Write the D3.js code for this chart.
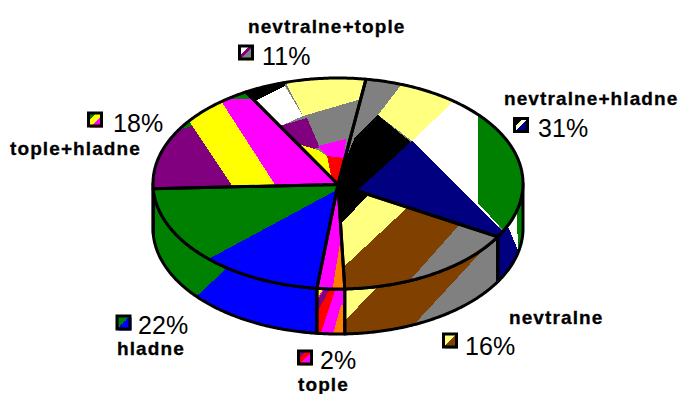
<!DOCTYPE html>
<html>
<head>
<meta charset="utf-8">
<script src="https://cdn.jsdelivr.net/npm/d3@7/dist/d3.min.js"></script>
<style>
html,body{margin:0;padding:0;background:#fff}
svg{display:block}
text{font-family:"Liberation Sans",Arial,sans-serif;fill:#000}
.name{font-size:19px;font-weight:bold;letter-spacing:1.1px;stroke:#000;stroke-width:.3px}
.pct{font-size:25px;letter-spacing:.1px}
</style>
</head>
<body>
<svg id="chart" width="685" height="394"></svg>
<script>
// ---- data, clockwise from the top of the pie
const categories = ["nevtralne+hladne","nevtralne","tople","hladne","tople+hladne","nevtralne+tople"];
const values = [31.0,16.0,2.4,22.4,17.5,10.7];
const firstAngleDeg = 8.7;

// ---- palette of the dithered fills
const BK="#000",WH="#fff",GY="#808080",LY="#ffff80",YE="#ffff00",NV="#000080",BL="#0000ff",
      GR="#008000",BR="#804000",PU="#800080",MG="#ff00ff",RD="#ff0000",OR="#ff8000";

// ---- fill bands (texture only), in reference-frame units, painted in order
const topBase = [GY,BK,MG,GR,PU,GY];
const wallBase = [NV,GY,MG,GR,GR,GR];
const topBands = [
 [[LY,[405,80,378,115,412,141,455,103,430,70]],
  [WH,[455,100,412,141,500,232,478,80]],
  [GR,[478,80,530,80,530,245,503,230,478,203]],
  [BK,[378,115,412,143,357,192,336,192,336,183,355,137]],
  [NV,[412,141,350,197,500,250,510,238]]],
 [[LY,[375,188,335,230,335,275,410,205]],
  [BR,[410,205,335,275,335,300,400,300,412,278,460,224]],
  [GY,[460,224,412,278,395,298,525,298,525,215]]],
 [[OR,[340.5,240,332,292,352,292,352,240]]],
 [[BL,[347,184.5,205,261,205,300,347,300]]],
 [[GR,[150,138.5,270,102.5,270,70,150,70]],
  [YE,[180,107.5,240,197.5,283,197,220,99.4]],
  [MG,[220,99.4,283,197,345,197,345,99.4]]],
 [[LY,[287,60,287,85,303,116,375,95,375,60]],
  [WH,[240,105,257,100,285,86,303,116,283,125,262,125]],
  [BK,[235,90,290,70,285,86,257,100,245,106]],
  [PU,[283,125,307,118,320,148,300,150,265,125]],
  [YE,[295,143,318,150,327,156,336,185,320,185]],
  [MG,[318,146,346,139,344,158,327,156]],
  [RD,[327,156,344,158,340,190,333,185]]]
];
const wallBands = [
 [[WH,[506,222,518,250,519,208]],
  [GR,[517,205,530,205,530,262,518,262]]],
 [[BR,[382,282,335,331,335,345,397,343,495,237,395,250]],
  [LY,[382,282,335,331,335,280]]],
 [[YE,[315,289,323,289,315,303]],
  [PU,[315,303,325,289,330,289,315,316]],
  [RD,[330,289,335,291,320,336,315,336,315,316]],
  [OR,[341,305,347,305,347,338,332,338]]],
 [[BL,[240,256,185,307,320,345,320,250]]],
 [],
 []
];

// ---- legend chips
const keyBoxes = [[514.5,118.5],[443.5,334],[298.5,351],[117,316],[88.5,113],[239.5,46]];
const keyFringe = [GR,GY,OR,BL,RD,YE];
const keyStops = [
 [[0,BK],[.32,BK],[.32,LY],[.5,WH],[.5,NV],[1,NV]],
 [[0,LY],[.5,LY],[.5,BR],[1,BR]],
 [[0,PU],[.3,PU],[.3,RD],[.55,RD],[.55,MG],[1,MG]],
 [[0,GR],[.5,GR],[.5,BL],[1,BL]],
 [[0,GR],[.3,GR],[.3,YE],[.62,YE],[.62,MG],[1,MG]],
 [[0,WH],[.4,WH],[.4,PU],[.55,PU],[.55,GY],[1,GY]]
];

// ---- label layout
const nameAt = [[504,105],[509,324],[298,391],[117,355],[10,155],[248,33]];
const pctAt = [[538,137],[465,355],[320,369],[138,334],[113,132],[262,65]];

// ---- pie geometry
const cx = 338, rx = 185, cy = 183.5, ry = 105.5, depth = 45;
const sx = d3.scaleLinear().domain([-1,1]).range([cx-rx,cx+rx]);
const sy = d3.scaleLinear().domain([-1,1]).range([cy-ry,cy+ry]);
const texX = d3.scaleLinear().domain([153,523]).range([cx-rx,cx+rx]);
const texY = d3.scaleLinear().domain([78,289]).range([cy-ry,cy+ry]);

const start = firstAngleDeg*Math.PI/180;
const arcs = d3.pie().sort(null).value(d=>d).startAngle(start).endAngle(start+2*Math.PI)(values);

const rim = (t,dy=0)=>[sx(Math.sin(t)), sy(-Math.cos(t))+dy];
const samples = (a,b,dy=0)=>{
  const n = Math.max(2,Math.ceil((b-a)/0.01));
  return d3.range(n+1).map(i=>rim(a+(b-a)*i/n,dy));
};
const line = d3.line();
const topPath = a => line([[cx,cy+1],...samples(a.startAngle,a.endAngle)])+"Z";
const wallSpan = a => {
  const lo = Math.max(a.startAngle,Math.PI/2), hi = Math.min(a.endAngle,3*Math.PI/2);
  return hi>lo ? [lo,hi] : null;
};
const wallPath = a => {
  const s = wallSpan(a);
  return line([...samples(s[0],s[1]),...samples(s[0],s[1],depth).reverse()])+"Z";
};
const poly = pts => {
  const out=[];
  for(let i=0;i<pts.length;i+=2) out.push(texX(pts[i])+","+texY(pts[i+1]));
  return out.join(" ");
};

const svg = d3.select("#chart");
const defs = svg.append("defs");

// walls first
const walled = arcs.map((a,i)=>({a,i})).filter(d=>wallSpan(d.a));
defs.selectAll("clipPath.w").data(walled).join("clipPath").attr("class","w")
  .attr("id",d=>"wall"+d.i).append("path").attr("d",d=>wallPath(d.a));
const wg = svg.append("g").selectAll("g").data(walled).join("g")
  .attr("clip-path",d=>`url(#wall${d.i})`);
wg.append("path").attr("d",d=>wallPath(d.a)).attr("fill",d=>wallBase[d.i]);
wg.selectAll("polygon").data(d=>wallBands[d.i]).join("polygon")
  .attr("shape-rendering","crispEdges").attr("fill",d=>d[0]).attr("points",d=>poly(d[1]));
svg.append("g").selectAll("path").data(walled).join("path")
  .attr("d",d=>wallPath(d.a)).attr("fill","none").attr("stroke","#000")
  .attr("stroke-width",3).attr("stroke-linejoin","round");

// top face
defs.selectAll("clipPath.t").data(arcs).join("clipPath").attr("class","t")
  .attr("id",(d,i)=>"top"+i).append("path").attr("d",topPath);
const tg = svg.append("g").selectAll("g").data(arcs).join("g")
  .attr("clip-path",(d,i)=>`url(#top${i})`);
tg.append("path").attr("d",topPath).attr("fill",(d,i)=>topBase[i]);
tg.selectAll("polygon").data((d,i)=>topBands[i]).join("polygon")
  .attr("shape-rendering","crispEdges").attr("fill",d=>d[0]).attr("points",d=>poly(d[1]));
svg.append("g").selectAll("path").data(arcs).join("path")
  .attr("d",topPath).attr("fill","none").attr("stroke","#000")
  .attr("stroke-width",3).attr("stroke-linejoin","round");

// legend chips
const grads = defs.selectAll("linearGradient").data(keyStops).join("linearGradient")
  .attr("id",(d,i)=>"key"+i).attr("x1",0).attr("y1",0).attr("x2",1).attr("y2",1);
grads.selectAll("stop").data(d=>d).join("stop")
  .attr("offset",d=>d[0]).attr("stop-color",d=>d[1]);
const chips = svg.append("g").selectAll("g").data(keyBoxes).join("g")
  .attr("transform",d=>`translate(${d[0]},${d[1]})`);
chips.append("rect").attr("x",1.5).attr("y",1.5).attr("width",13).attr("height",13)
  .attr("fill",(d,i)=>keyFringe[i]);
chips.append("rect").attr("width",13).attr("height",13)
  .attr("fill",(d,i)=>`url(#key${i})`).attr("stroke","#000").attr("stroke-width",3);

// labels
svg.append("g").selectAll("text").data(categories).join("text").attr("class","name")
  .attr("x",(d,i)=>nameAt[i][0]).attr("y",(d,i)=>nameAt[i][1]).text(d=>d);
svg.append("g").selectAll("text").data(values).join("text").attr("class","pct")
  .attr("x",(d,i)=>pctAt[i][0]).attr("y",(d,i)=>pctAt[i][1]).text(d=>Math.round(d)+"%");
</script>
</body>
</html>
